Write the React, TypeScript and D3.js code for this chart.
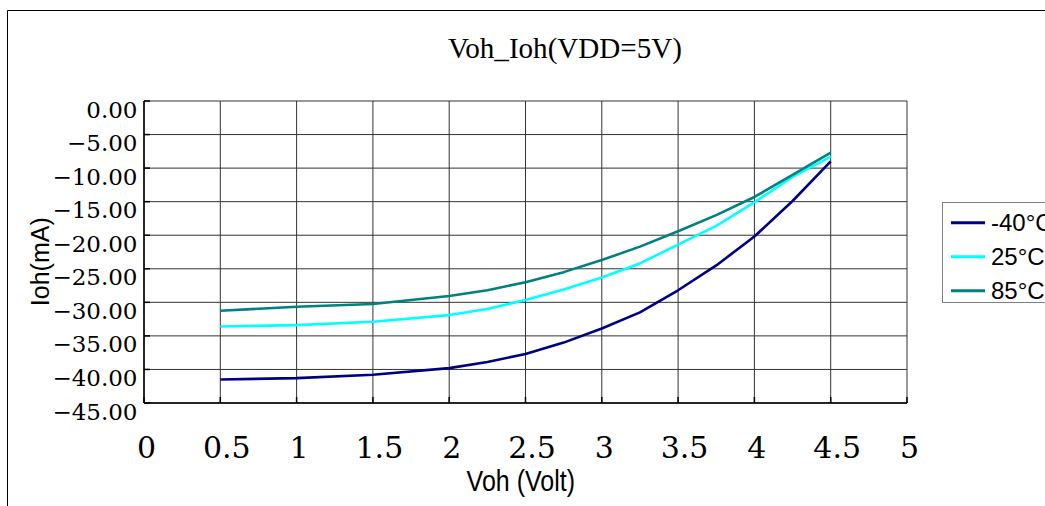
import React from "react";
import * as d3 from "d3";

const VOLTAGES = [0.5, 1.0, 1.5, 2.0, 2.25, 2.5, 2.75, 3.0, 3.25, 3.5, 3.75, 4.0, 4.25, 4.5];
const IOH_M40 = [-41.5, -41.3, -40.8, -39.8, -38.9, -37.7, -36.0, -33.9, -31.5, -28.2, -24.5, -20.2, -14.9, -9.0];
const IOH_25 = [-33.6, -33.4, -32.9, -31.9, -31.0, -29.65, -28.1, -26.3, -24.2, -21.4, -18.6, -15.1, -11.3, -8.3];
const IOH_85 = [-31.25, -30.65, -30.25, -29.05, -28.2, -27.0, -25.5, -23.7, -21.7, -19.4, -17.0, -14.3, -11.0, -7.7];

const SERIES_NAMES = ["-40°C", "25°C", "85°C"];
const SERIES_COLORS = ["#000080", "#00FFFF", "#008080"];

const X_TICKS = [0, 0.5, 1, 1.5, 2, 2.5, 3, 3.5, 4, 4.5, 5];
const X_TICK_LABELS = ["0", "0.5", "1", "1.5", "2", "2.5", "3", "3.5", "4", "4.5", "5"];
const Y_TICKS = [0, -5, -10, -15, -20, -25, -30, -35, -40, -45];
const Y_TICK_LABELS = ["0.00", "−5.00", "−10.00", "−15.00", "−20.00", "−25.00", "−30.00", "−35.00", "−40.00", "−45.00"];

const TITLE = "Voh_Ioh(VDD=5V)";
const X_TITLE = "Voh (Volt)";
const Y_TITLE = "Ioh(mA)";

export default function App() {
  const W = 1045;
  const H = 506;
  const left = 144, right = 907, top = 101, bottom = 403;
  const x = d3.scaleLinear().domain([0, 5]).range([left, right]);
  const y = d3.scaleLinear().domain([0, -45]).range([top, bottom]);
  const allSeries = [IOH_M40, IOH_25, IOH_85];
  const line = d3
    .line<[number, number]>()
    .x((d) => x(d[0]))
    .y((d) => y(d[1]))
    .curve(d3.curveLinear);

  const serif = "'DejaVu Serif', serif";
  const sans = "'Liberation Sans', Arial, sans-serif";

  return (
    <svg
      width={W}
      height={H}
      viewBox={`0 0 ${W} ${H}`}
      style={{ position: "absolute", left: 0, top: 0, background: "#fff" }}
    >
      <rect x={0} y={0} width={W} height={H} fill="#fff" />
      {/* outer frame */}
      <path d={`M7.5,${H} V10.5 H${W}`} fill="none" stroke="#000" strokeWidth={1} />

      {/* title */}
      <text
        x={565}
        y={58}
        textAnchor="middle"
        fontFamily="'Liberation Serif', serif"
        fontSize={30}
        textLength={234}
        lengthAdjust="spacingAndGlyphs"
        fill="#000"
      >
        {TITLE}
      </text>

      {/* grid */}
      {X_TICKS.map((t) => (
        <line key={"gx" + t} x1={x(t)} x2={x(t)} y1={top} y2={bottom} stroke="#333" strokeWidth={1} />
      ))}
      {Y_TICKS.map((t) => (
        <line key={"gy" + t} x1={left} x2={right} y1={y(t)} y2={y(t)} stroke="#333" strokeWidth={1} />
      ))}
      {/* ticks */}
      {Y_TICKS.map((t) => (
        <line key={"ty" + t} x1={left} x2={left + 6} y1={y(t)} y2={y(t)} stroke="#000" strokeWidth={1.5} />
      ))}
      {X_TICKS.map((t) => (
        <line key={"tx" + t} x1={x(t)} x2={x(t)} y1={bottom - 6} y2={bottom} stroke="#000" strokeWidth={1.5} />
      ))}
      {/* axes */}
      <line x1={left} x2={left} y1={top} y2={bottom} stroke="#000" strokeWidth={1.5} />
      <line x1={left} x2={right} y1={bottom} y2={bottom} stroke="#000" strokeWidth={1.5} />

      {/* series */}
      {allSeries.map((vals, i) => (
        <path
          key={"s" + i}
          d={line(VOLTAGES.map((v, j) => [v, vals[j]] as [number, number])) || ""}
          fill="none"
          stroke={SERIES_COLORS[i]}
          strokeWidth={2.6}
          strokeLinejoin="round"
        />
      ))}

      {/* y tick labels */}
      {Y_TICKS.map((t, i) => (
        <text
          key={"ly" + t}
          x={137.5}
          y={y(t) + 16.5}
          textAnchor="end"
          fontFamily={serif}
          fontSize={23}
          fill="#000"
        >
          {Y_TICK_LABELS[i]}
        </text>
      ))}
      {/* x tick labels */}
      {X_TICKS.map((t, i) => (
        <text
          key={"lx" + t}
          x={x(t) + (Number.isInteger(t) ? 2.5 : 6.5)}
          y={458}
          textAnchor="middle"
          fontFamily={serif}
          fontSize={30}
          fill="#000"
        >
          {X_TICK_LABELS[i]}
        </text>
      ))}

      {/* axis titles */}
      <text
        transform="translate(520.8,491) scale(1,1.2)"
        textAnchor="middle"
        fontFamily={sans}
        fontSize={25}
        fill="#000"
      >
        {X_TITLE}
      </text>
      <text
        transform="translate(48.5,261.7) rotate(-90)"
        textAnchor="middle"
        fontFamily={sans}
        fontSize={25}
        fill="#000"
      >
        {Y_TITLE}
      </text>

      {/* legend */}
      <rect x={942.5} y={202.5} width={200} height={100} fill="#fff" stroke="#808080" strokeWidth={1} />
      {SERIES_NAMES.map((name, i) => {
        const cy = 222.7 + i * 34;
        return (
          <g key={"lg" + i}>
            <line x1={951} x2={985} y1={cy} y2={cy} stroke={SERIES_COLORS[i]} strokeWidth={3} />
            <text x={991} y={cy + 8.5} fontFamily={sans} fontSize={24} fill="#000">
              {name}
            </text>
          </g>
        );
      })}
    </svg>
  );
}
